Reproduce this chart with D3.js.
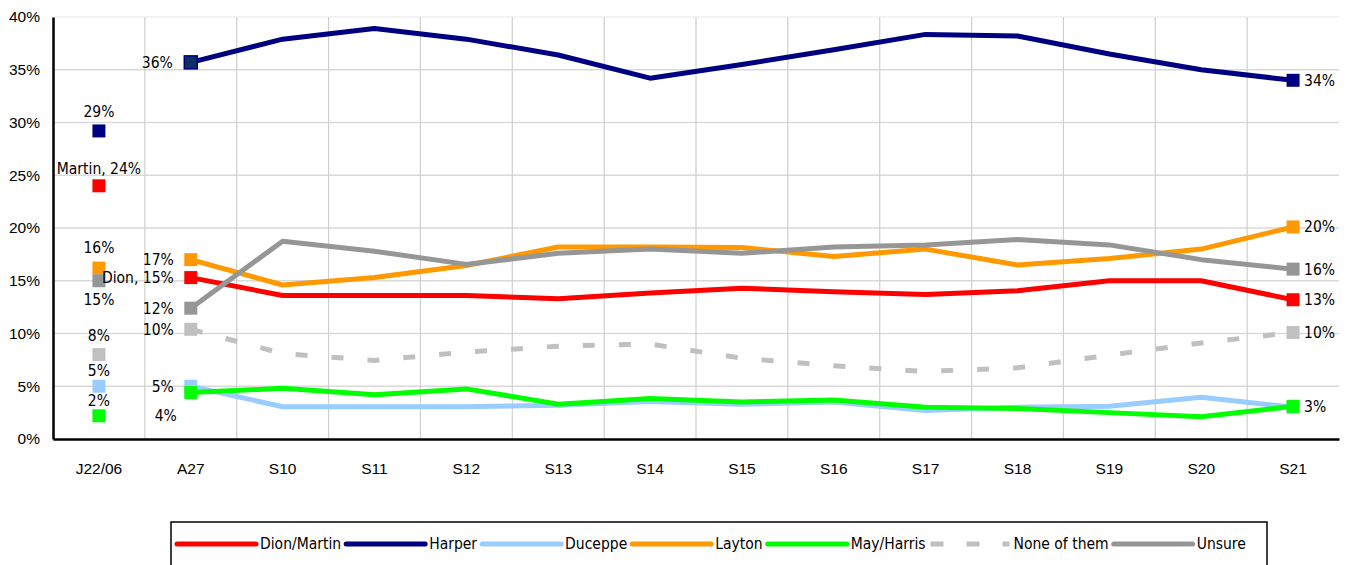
<!DOCTYPE html>
<html>
<head>
<meta charset="utf-8">
<script src="https://cdn.jsdelivr.net/npm/d3@7"></script>
<style>
    body { margin: 0; background: #fff; }
    svg { display: block; font-family: "Liberation Sans Narrow", "DejaVu Sans Condensed", sans-serif; font-size: 15.5px; }
</style>
</head>
<body>
<svg id="chart" width="1348" height="565"></svg>
<script>
const categories = ["J22/06", "A27", "S10", "S11", "S12", "S13", "S14", "S15", "S16", "S17", "S18", "S19", "S20", "S21"];

const dionMartin = [24, 15.3, 13.6, 13.6, 13.6, 13.3, 13.85, 14.3, 13.95, 13.7, 14.05, 15.0, 15.0, 13.2];
const harper = [29.2, 35.7, 37.9, 38.9, 37.9, 36.4, 34.2, 35.5, 36.9, 38.35, 38.2, 36.5, 35.0, 34.0];
const duceppe = [5.0, 5.0, 3.06, 3.06, 3.06, 3.2, 3.55, 3.3, 3.5, 2.7, 3.0, 3.1, 3.95, 3.0];
const layton = [16.2, 17.0, 14.6, 15.3, 16.45, 18.2, 18.2, 18.15, 17.3, 18.0, 16.5, 17.1, 18.0, 20.1];
const mayHarris = [2.2, 4.4, 4.8, 4.2, 4.75, 3.3, 3.85, 3.5, 3.7, 3.0, 2.9, 2.5, 2.1, 3.1];
const noneOfThem = [8.0, 10.4, 8.1, 7.45, 8.25, 8.8, 9.0, 7.65, 6.95, 6.4, 6.75, 7.95, 9.1, 10.1];
const unsure = [15.0, 12.4, 18.75, 17.8, 16.55, 17.6, 18.0, 17.6, 18.2, 18.4, 18.9, 18.4, 17.0, 16.1];

const yTicks = [0, 5, 10, 15, 20, 25, 30, 35, 40];

// label settings: where the value labels go on the first, second and last points
const series = [
    { name: "Dion/Martin", values: dionMartin, color: "#ff0000",
      first: { pos: "above", dy: -12, prefix: "Martin, " }, second: { pos: "left", prefix: "Dion, " }, last: { pos: "right" } },
    { name: "Harper", values: harper, color: "#000080", markFill2: "#0b3061",
      first: { pos: "above", dy: -14 }, second: { pos: "left", dx: -18 }, last: { pos: "right" } },
    { name: "Duceppe", values: duceppe, color: "#99ccff",
      first: { pos: "above", dy: -10 }, second: { pos: "left" }, last: null },
    { name: "Layton", values: layton, color: "#ff9900",
      first: { pos: "above", dy: -15 }, second: { pos: "left" }, last: { pos: "right" } },
    { name: "May/Harris", values: mayHarris, color: "#00ff00",
      first: { pos: "above", dy: -10 }, second: { pos: "belowleft" }, last: { pos: "right" } },
    { name: "None of them", values: noneOfThem, color: "#c0c0c0", dash: "12,24",
      first: { pos: "above", dy: -14 }, second: { pos: "left" }, last: { pos: "right" } },
    { name: "Unsure", values: unsure, color: "#969696",
      first: { pos: "below", dy: 24 }, second: { pos: "left" }, last: { pos: "right" } }
];

const svg = d3.select("#chart");
const plotLeft = 53, plotRight = 1339, plotTop = 17, plotBottom = 439;

const x = d3.scaleBand()
    .domain(categories)
    .range([plotLeft, plotRight])
    .padding(0);
const cx = c => x(c) + x.bandwidth() / 2;

const y = d3.scaleLinear()
    .domain([0, 40])
    .range([plotBottom, plotTop]);

// gridlines
svg.append("g")
    .selectAll("line")
    .data(yTicks.filter(d => d > 0))
    .enter()
    .append("line")
    .attr("x1", plotLeft).attr("x2", plotRight)
    .attr("y1", d => y(d)).attr("y2", d => y(d))
    .attr("stroke", d => d === 40 ? "#f0f0f0" : "#d9d9d9")
    .attr("stroke-width", 1.5);

svg.append("g")
    .selectAll("line")
    .data(categories.slice(1))
    .enter()
    .append("line")
    .attr("x1", d => x(d)).attr("x2", d => x(d))
    .attr("y1", plotTop).attr("y2", plotBottom)
    .attr("stroke", "#cfcfcf")
    .attr("stroke-width", 1.2);

// axes
const yAxis = svg.append("g")
    .attr("transform", `translate(${plotLeft},0)`)
    .call(d3.axisLeft(y).tickValues(yTicks).tickFormat(d => d + "%").tickSize(0).tickSizeOuter(0).tickPadding(13));
yAxis.select(".domain").attr("stroke", "#000").attr("stroke-width", 2.5);
yAxis.selectAll("text").attr("font-size", 15.5).attr("font-family", null).attr("fill", "#000");

const xAxis = svg.append("g")
    .attr("transform", `translate(0,${plotBottom})`)
    .call(d3.axisBottom(x).tickSize(0).tickSizeOuter(0).tickPadding(24));
xAxis.select(".domain").attr("stroke", "#000").attr("stroke-width", 2.5);
xAxis.selectAll("text").attr("font-size", 15.5).attr("font-family", null).attr("fill", "#000");

// lines (first point stands alone)
const line = d3.line()
    .x(d => cx(d.cat))
    .y(d => y(d.v));

series.forEach(s => {
    const pts = s.values.map((v, i) => ({ cat: categories[i], v: v }));
    svg.append("path")
        .datum(pts.slice(1))
        .attr("d", line)
        .attr("fill", "none")
        .attr("stroke", s.color)
        .attr("stroke-width", 5)
        .attr("stroke-linejoin", "round")
        .attr("stroke-dasharray", s.dash || null);

    const marks = [0, 1, pts.length - 1].map(i => ({ ...pts[i], i: i }));
    svg.append("g")
        .selectAll("rect")
        .data(marks)
        .enter()
        .append("rect")
        .attr("x", d => cx(d.cat) - 6.5)
        .attr("y", d => y(d.v) - 6.5)
        .attr("width", 13)
        .attr("height", 13)
        .attr("fill", d => (d.i === 1 && s.markFill2) ? s.markFill2 : s.color)
        .attr("stroke", d => (d.i === 1 && s.markFill2) ? s.color : "none")
        .attr("stroke-width", 1.5);
});

// value labels
function addLabel(s, i, opt) {
    if (!opt) return;
    const v = s.values[i];
    const px = cx(categories[i]), py = y(v);
    const txt = (opt.prefix || "") + Math.round(v) + "%";
    const t = svg.append("text").text(txt).attr("fill", "#000");
    if (opt.pos === "above" || opt.pos === "below") {
        t.attr("x", px).attr("y", py + opt.dy).attr("text-anchor", "middle");
    } else if (opt.pos === "left") {
        t.attr("x", px + (opt.dx || -17)).attr("y", py).attr("dy", "0.35em").attr("text-anchor", "end");
    } else if (opt.pos === "belowleft") {
        t.attr("x", px - 14).attr("y", py + 23).attr("dy", "0.35em").attr("text-anchor", "end");
    } else if (opt.pos === "right") {
        t.attr("x", px + 11).attr("y", py).attr("dy", "0.35em").attr("text-anchor", "start");
    }
}

series.forEach(s => {
    addLabel(s, 0, s.first);
    addLabel(s, 1, s.second);
    addLabel(s, s.values.length - 1, s.last);
});

// legend
const legendG = svg.append("g");
legendG.append("rect")
    .attr("x", 171).attr("y", 522)
    .attr("width", 1096).attr("height", 60)
    .attr("fill", "#fff")
    .attr("stroke", "#000")
    .attr("stroke-width", 1.5);

let lx = 177;
const ly = 544;
series.forEach(s => {
    legendG.append("line")
        .attr("x1", lx).attr("x2", lx + 79)
        .attr("y1", ly).attr("y2", ly)
        .attr("stroke", s.color)
        .attr("stroke-width", 5)
        .attr("stroke-linecap", s.dash ? "butt" : "round")
        .attr("stroke-dasharray", s.dash ? "13,23" : null);
    const t = legendG.append("text")
        .attr("x", lx + 83).attr("y", ly)
        .attr("dy", "0.35em")
        .attr("fill", "#000")
        .text(s.name);
    lx += 83 + t.node().getComputedTextLength() + 5;
});
</script>
</body>
</html>
